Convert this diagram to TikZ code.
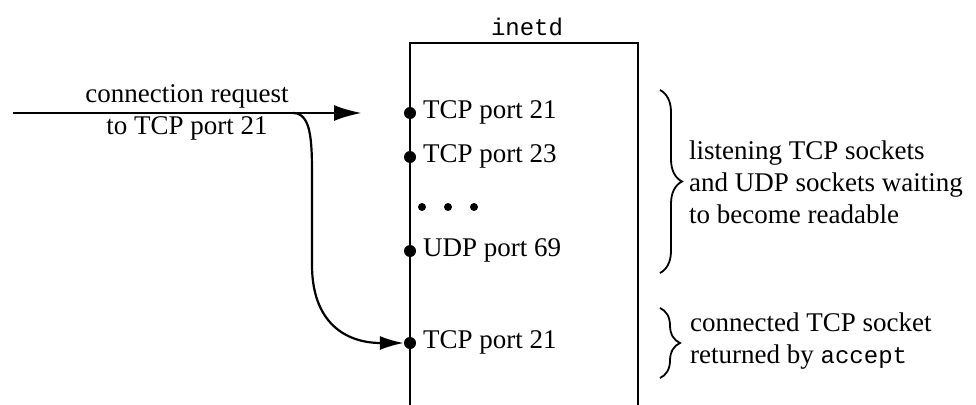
\documentclass[tikz,border=0pt]{standalone}
\usepackage{fontspec}
\setmainfont{Liberation Serif}
\setmonofont{Liberation Mono}
\usetikzlibrary{arrows.meta,decorations.pathreplacing}
\begin{document}
\begin{tikzpicture}[x=1pt,y=-1pt,
  txt/.style={inner sep=0pt, font=\fontsize{27}{32}\selectfont},
  port/.style={txt, anchor=base west},
  sock/.style={circle, fill, inner sep=0pt, minimum size=12pt},
  dotmark/.style={circle, fill, inner sep=0pt, minimum size=8pt},
  note/.style={txt, anchor=west, align=left},
  brc/.style={decorate, decoration={brace, amplitude=22pt}, line width=1.8pt},
  boxline/.style={line width=2.2pt},
  reqarrow/.style={line width=2.8pt, -{Latex[length=28pt,width=16pt]}},
  curvearrow/.style={line width=2.2pt, -{Latex[length=24pt,width=14pt]}}]
\useasboundingbox (0,0) rectangle (976,404);
% box
\coordinate (bl) at (410,406);
\coordinate (tl) at (410,43);
\coordinate (tr) at (638,43);
\coordinate (br) at (638,406);
\draw[boxline] (bl) -- (tl) -- (tr) -- (br);
\node[font=\ttfamily\fontsize{24}{28}\selectfont, inner sep=0pt] (title) at (527,27) {inetd};
% sockets
\node[sock] (p21) at (410,113) {};
\node[sock] (p23) at (410,157) {};
\node[sock] (u69) at (410,251) {};
\node[sock] (c21) at (410,343) {};
\node[port] (lp21) at (423,118) {TCP port 21};
\node[port] (lp23) at (423,162) {TCP port 23};
\node[port] (lu69) at (423,256) {UDP port 69};
\node[port] (lc21) at (423,348) {TCP port 21};
\node[dotmark] (d1) at (422,207) {};
\node[dotmark] (d2) at (448,207) {};
\node[dotmark] (d3) at (474,207) {};
% request arrow
\coordinate (src) at (13,113);
\coordinate (reqend) at (362,113);
\coordinate (bend) at (293,113);
\draw[reqarrow] (src) -- (reqend);
\node[txt, align=center] (req) at (187,112) {connection request\\to TCP port 21};
\draw[curvearrow] (bend) .. controls (311,113) and (312,140) .. (312,175) -- (312,265) .. controls (312,322) and (345,343) .. (c21);
% braces
\coordinate (b1t) at (660,90);
\coordinate (b1b) at (660,273);
\coordinate (b2t) at (660,308);
\coordinate (b2b) at (660,378);
\draw[brc] (b1t) -- (b1b);
\draw[brc, decoration={brace, amplitude=20pt}] (b2t) -- (b2b);
\node[note] (n1) at (689,182) {listening TCP sockets\\and UDP sockets waiting\\to become readable};
\node[note] (n2) at (690,341) {connected TCP socket\\returned by \texttt{\fontsize{24}{32}\selectfont accept}};
\end{tikzpicture}
\end{document}
